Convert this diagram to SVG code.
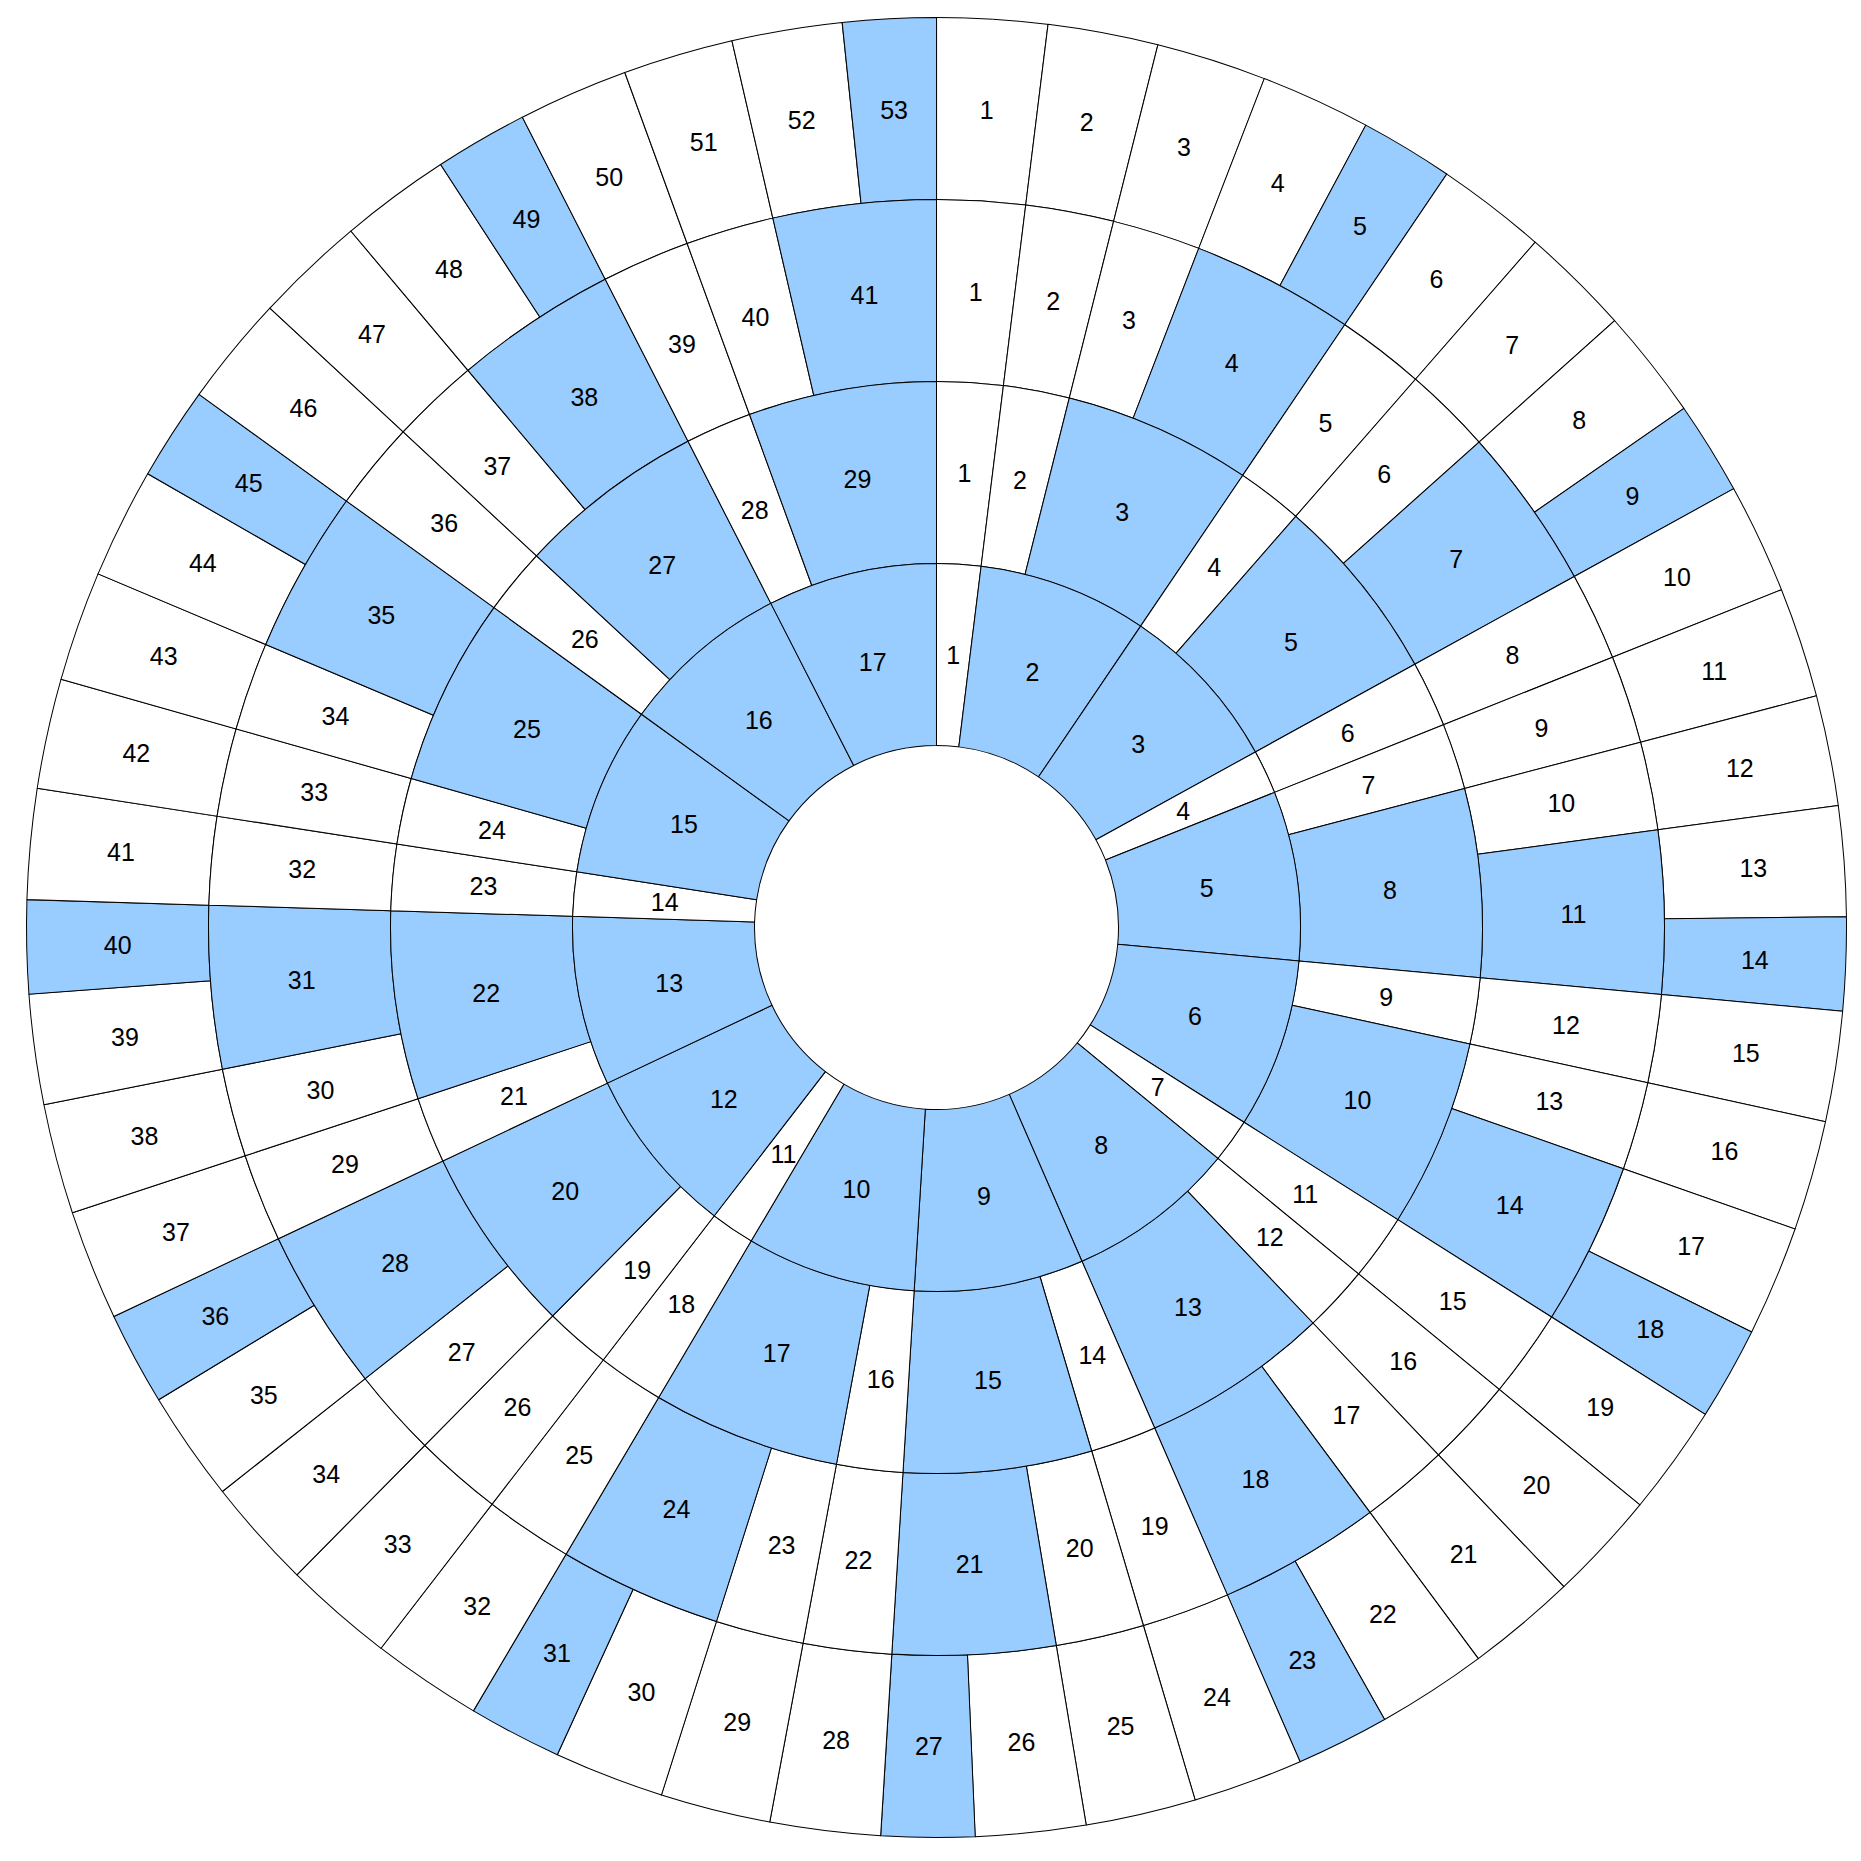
<svg xmlns="http://www.w3.org/2000/svg" xmlns:xlink="http://www.w3.org/1999/xlink" width="1861" height="1861" viewBox="0 0 1861 1861">
<style>
.w{fill:#ffffff}
.b{fill:#99ccff}
use{stroke:#000;stroke-width:1;stroke-linejoin:round}
text{font-family:"Liberation Sans",Arial,sans-serif;font-size:25px;fill:#000;text-anchor:middle;dominant-baseline:central}
</style>
<defs>
<path id="r4w" d="M0,-910A910,910 0 0 1 111.49,-903.14L89.19,-722.52A728,728 0 0 0 0,-728Z"/>
<path id="r4b" d="M0,-910A910,910 0 0 1 94.41,-905.09L75.53,-724.07A728,728 0 0 0 0,-728Z"/>
<path id="r3w" d="M0,-728A728,728 0 0 1 89.19,-722.52L66.89,-541.89A546,546 0 0 0 0,-546Z"/>
<path id="r3b" d="M0,-728A728,728 0 0 1 163.67,-709.36L122.75,-532.02A546,546 0 0 0 0,-546Z"/>
<path id="r2w" d="M0,-546A546,546 0 0 1 66.89,-541.89L44.60,-361.26A364,364 0 0 0 0,-364Z"/>
<path id="r2b" d="M0,-546A546,546 0 0 1 187.01,-512.97L124.67,-341.98A364,364 0 0 0 0,-364Z"/>
<path id="r1w" d="M0,-364A364,364 0 0 1 44.60,-361.26L22.30,-180.63A182,182 0 0 0 0,-182Z"/>
<path id="r1b" d="M0,-364A364,364 0 0 1 165.63,-324.13L82.82,-162.07A182,182 0 0 0 0,-182Z"/>
</defs>
<rect width="1861" height="1861" fill="#ffffff"/>
<g transform="translate(936.5,927.5)">
<g id="ring4">
<g id="r4-1"><use href="#r4w" class="w" transform="rotate(0)"/><text transform="rotate(3.52) translate(0,-819) rotate(-3.52)">1</text></g>
<g id="r4-2"><use href="#r4w" class="w" transform="rotate(7.04)"/><text transform="rotate(10.56) translate(0,-819) rotate(-10.56)">2</text></g>
<g id="r4-3"><use href="#r4w" class="w" transform="rotate(14.08)"/><text transform="rotate(17.59) translate(0,-819) rotate(-17.59)">3</text></g>
<g id="r4-4"><use href="#r4w" class="w" transform="rotate(21.11)"/><text transform="rotate(24.63) translate(0,-819) rotate(-24.63)">4</text></g>
<g id="r4-5"><use href="#r4b" class="b" transform="rotate(28.15)"/><text transform="rotate(31.13) translate(0,-819) rotate(-31.13)">5</text></g>
<g id="r4-6"><use href="#r4w" class="w" transform="rotate(34.11)"/><text transform="rotate(37.62) translate(0,-819) rotate(-37.62)">6</text></g>
<g id="r4-7"><use href="#r4w" class="w" transform="rotate(41.14)"/><text transform="rotate(44.66) translate(0,-819) rotate(-44.66)">7</text></g>
<g id="r4-8"><use href="#r4w" class="w" transform="rotate(48.18)"/><text transform="rotate(51.70) translate(0,-819) rotate(-51.70)">8</text></g>
<g id="r4-9"><use href="#r4b" class="b" transform="rotate(55.22)"/><text transform="rotate(58.20) translate(0,-819) rotate(-58.20)">9</text></g>
<g id="r4-10"><use href="#r4w" class="w" transform="rotate(61.17)"/><text transform="rotate(64.69) translate(0,-819) rotate(-64.69)">10</text></g>
<g id="r4-11"><use href="#r4w" class="w" transform="rotate(68.21)"/><text transform="rotate(71.73) translate(0,-819) rotate(-71.73)">11</text></g>
<g id="r4-12"><use href="#r4w" class="w" transform="rotate(75.25)"/><text transform="rotate(78.77) translate(0,-819) rotate(-78.77)">12</text></g>
<g id="r4-13"><use href="#r4w" class="w" transform="rotate(82.29)"/><text transform="rotate(85.80) translate(0,-819) rotate(-85.80)">13</text></g>
<g id="r4-14"><use href="#r4b" class="b" transform="rotate(89.32)"/><text transform="rotate(92.30) translate(0,-819) rotate(-92.30)">14</text></g>
<g id="r4-15"><use href="#r4w" class="w" transform="rotate(95.28)"/><text transform="rotate(98.80) translate(0,-819) rotate(-98.80)">15</text></g>
<g id="r4-16"><use href="#r4w" class="w" transform="rotate(102.32)"/><text transform="rotate(105.83) translate(0,-819) rotate(-105.83)">16</text></g>
<g id="r4-17"><use href="#r4w" class="w" transform="rotate(109.35)"/><text transform="rotate(112.87) translate(0,-819) rotate(-112.87)">17</text></g>
<g id="r4-18"><use href="#r4b" class="b" transform="rotate(116.39)"/><text transform="rotate(119.37) translate(0,-819) rotate(-119.37)">18</text></g>
<g id="r4-19"><use href="#r4w" class="w" transform="rotate(122.35)"/><text transform="rotate(125.86) translate(0,-819) rotate(-125.86)">19</text></g>
<g id="r4-20"><use href="#r4w" class="w" transform="rotate(129.38)"/><text transform="rotate(132.90) translate(0,-819) rotate(-132.90)">20</text></g>
<g id="r4-21"><use href="#r4w" class="w" transform="rotate(136.42)"/><text transform="rotate(139.94) translate(0,-819) rotate(-139.94)">21</text></g>
<g id="r4-22"><use href="#r4w" class="w" transform="rotate(143.46)"/><text transform="rotate(146.98) translate(0,-819) rotate(-146.98)">22</text></g>
<g id="r4-23"><use href="#r4b" class="b" transform="rotate(150.50)"/><text transform="rotate(153.47) translate(0,-819) rotate(-153.47)">23</text></g>
<g id="r4-24"><use href="#r4w" class="w" transform="rotate(156.45)"/><text transform="rotate(159.97) translate(0,-819) rotate(-159.97)">24</text></g>
<g id="r4-25"><use href="#r4w" class="w" transform="rotate(163.49)"/><text transform="rotate(167.01) translate(0,-819) rotate(-167.01)">25</text></g>
<g id="r4-26"><use href="#r4w" class="w" transform="rotate(170.53)"/><text transform="rotate(174.05) translate(0,-819) rotate(-174.05)">26</text></g>
<g id="r4-27"><use href="#r4b" class="b" transform="rotate(177.56)"/><text transform="rotate(180.54) translate(0,-819) rotate(-180.54)">27</text></g>
<g id="r4-28"><use href="#r4w" class="w" transform="rotate(183.52)"/><text transform="rotate(187.04) translate(0,-819) rotate(-187.04)">28</text></g>
<g id="r4-29"><use href="#r4w" class="w" transform="rotate(190.56)"/><text transform="rotate(194.08) translate(0,-819) rotate(-194.08)">29</text></g>
<g id="r4-30"><use href="#r4w" class="w" transform="rotate(197.59)"/><text transform="rotate(201.11) translate(0,-819) rotate(-201.11)">30</text></g>
<g id="r4-31"><use href="#r4b" class="b" transform="rotate(204.63)"/><text transform="rotate(207.61) translate(0,-819) rotate(-207.61)">31</text></g>
<g id="r4-32"><use href="#r4w" class="w" transform="rotate(210.59)"/><text transform="rotate(214.11) translate(0,-819) rotate(-214.11)">32</text></g>
<g id="r4-33"><use href="#r4w" class="w" transform="rotate(217.62)"/><text transform="rotate(221.14) translate(0,-819) rotate(-221.14)">33</text></g>
<g id="r4-34"><use href="#r4w" class="w" transform="rotate(224.66)"/><text transform="rotate(228.18) translate(0,-819) rotate(-228.18)">34</text></g>
<g id="r4-35"><use href="#r4w" class="w" transform="rotate(231.70)"/><text transform="rotate(235.22) translate(0,-819) rotate(-235.22)">35</text></g>
<g id="r4-36"><use href="#r4b" class="b" transform="rotate(238.74)"/><text transform="rotate(241.71) translate(0,-819) rotate(-241.71)">36</text></g>
<g id="r4-37"><use href="#r4w" class="w" transform="rotate(244.69)"/><text transform="rotate(248.21) translate(0,-819) rotate(-248.21)">37</text></g>
<g id="r4-38"><use href="#r4w" class="w" transform="rotate(251.73)"/><text transform="rotate(255.25) translate(0,-819) rotate(-255.25)">38</text></g>
<g id="r4-39"><use href="#r4w" class="w" transform="rotate(258.77)"/><text transform="rotate(262.29) translate(0,-819) rotate(-262.29)">39</text></g>
<g id="r4-40"><use href="#r4b" class="b" transform="rotate(265.80)"/><text transform="rotate(268.78) translate(0,-819) rotate(-268.78)">40</text></g>
<g id="r4-41"><use href="#r4w" class="w" transform="rotate(271.76)"/><text transform="rotate(275.28) translate(0,-819) rotate(-275.28)">41</text></g>
<g id="r4-42"><use href="#r4w" class="w" transform="rotate(278.80)"/><text transform="rotate(282.32) translate(0,-819) rotate(-282.32)">42</text></g>
<g id="r4-43"><use href="#r4w" class="w" transform="rotate(285.83)"/><text transform="rotate(289.35) translate(0,-819) rotate(-289.35)">43</text></g>
<g id="r4-44"><use href="#r4w" class="w" transform="rotate(292.87)"/><text transform="rotate(296.39) translate(0,-819) rotate(-296.39)">44</text></g>
<g id="r4-45"><use href="#r4b" class="b" transform="rotate(299.91)"/><text transform="rotate(302.89) translate(0,-819) rotate(-302.89)">45</text></g>
<g id="r4-46"><use href="#r4w" class="w" transform="rotate(305.86)"/><text transform="rotate(309.38) translate(0,-819) rotate(-309.38)">46</text></g>
<g id="r4-47"><use href="#r4w" class="w" transform="rotate(312.90)"/><text transform="rotate(316.42) translate(0,-819) rotate(-316.42)">47</text></g>
<g id="r4-48"><use href="#r4w" class="w" transform="rotate(319.94)"/><text transform="rotate(323.46) translate(0,-819) rotate(-323.46)">48</text></g>
<g id="r4-49"><use href="#r4b" class="b" transform="rotate(326.98)"/><text transform="rotate(329.96) translate(0,-819) rotate(-329.96)">49</text></g>
<g id="r4-50"><use href="#r4w" class="w" transform="rotate(332.93)"/><text transform="rotate(336.45) translate(0,-819) rotate(-336.45)">50</text></g>
<g id="r4-51"><use href="#r4w" class="w" transform="rotate(339.97)"/><text transform="rotate(343.49) translate(0,-819) rotate(-343.49)">51</text></g>
<g id="r4-52"><use href="#r4w" class="w" transform="rotate(347.01)"/><text transform="rotate(350.53) translate(0,-819) rotate(-350.53)">52</text></g>
<g id="r4-53"><use href="#r4b" class="b" transform="rotate(354.05)"/><text transform="rotate(357.03) translate(0,-819) rotate(-357.03)">53</text></g>
</g>
<g id="ring3">
<g id="r3-1"><use href="#r3w" class="w" transform="rotate(0)"/><text transform="rotate(3.52) translate(0,-637) rotate(-3.52)">1</text></g>
<g id="r3-2"><use href="#r3w" class="w" transform="rotate(7.04)"/><text transform="rotate(10.56) translate(0,-637) rotate(-10.56)">2</text></g>
<g id="r3-3"><use href="#r3w" class="w" transform="rotate(14.08)"/><text transform="rotate(17.59) translate(0,-637) rotate(-17.59)">3</text></g>
<g id="r3-4"><use href="#r3b" class="b" transform="rotate(21.11)"/><text transform="rotate(27.61) translate(0,-637) rotate(-27.61)">4</text></g>
<g id="r3-5"><use href="#r3w" class="w" transform="rotate(34.11)"/><text transform="rotate(37.62) translate(0,-637) rotate(-37.62)">5</text></g>
<g id="r3-6"><use href="#r3w" class="w" transform="rotate(41.14)"/><text transform="rotate(44.66) translate(0,-637) rotate(-44.66)">6</text></g>
<g id="r3-7"><use href="#r3b" class="b" transform="rotate(48.18)"/><text transform="rotate(54.68) translate(0,-637) rotate(-54.68)">7</text></g>
<g id="r3-8"><use href="#r3w" class="w" transform="rotate(61.17)"/><text transform="rotate(64.69) translate(0,-637) rotate(-64.69)">8</text></g>
<g id="r3-9"><use href="#r3w" class="w" transform="rotate(68.21)"/><text transform="rotate(71.73) translate(0,-637) rotate(-71.73)">9</text></g>
<g id="r3-10"><use href="#r3w" class="w" transform="rotate(75.25)"/><text transform="rotate(78.77) translate(0,-637) rotate(-78.77)">10</text></g>
<g id="r3-11"><use href="#r3b" class="b" transform="rotate(82.29)"/><text transform="rotate(88.78) translate(0,-637) rotate(-88.78)">11</text></g>
<g id="r3-12"><use href="#r3w" class="w" transform="rotate(95.28)"/><text transform="rotate(98.80) translate(0,-637) rotate(-98.80)">12</text></g>
<g id="r3-13"><use href="#r3w" class="w" transform="rotate(102.32)"/><text transform="rotate(105.83) translate(0,-637) rotate(-105.83)">13</text></g>
<g id="r3-14"><use href="#r3b" class="b" transform="rotate(109.35)"/><text transform="rotate(115.85) translate(0,-637) rotate(-115.85)">14</text></g>
<g id="r3-15"><use href="#r3w" class="w" transform="rotate(122.35)"/><text transform="rotate(125.86) translate(0,-637) rotate(-125.86)">15</text></g>
<g id="r3-16"><use href="#r3w" class="w" transform="rotate(129.38)"/><text transform="rotate(132.90) translate(0,-637) rotate(-132.90)">16</text></g>
<g id="r3-17"><use href="#r3w" class="w" transform="rotate(136.42)"/><text transform="rotate(139.94) translate(0,-637) rotate(-139.94)">17</text></g>
<g id="r3-18"><use href="#r3b" class="b" transform="rotate(143.46)"/><text transform="rotate(149.95) translate(0,-637) rotate(-149.95)">18</text></g>
<g id="r3-19"><use href="#r3w" class="w" transform="rotate(156.45)"/><text transform="rotate(159.97) translate(0,-637) rotate(-159.97)">19</text></g>
<g id="r3-20"><use href="#r3w" class="w" transform="rotate(163.49)"/><text transform="rotate(167.01) translate(0,-637) rotate(-167.01)">20</text></g>
<g id="r3-21"><use href="#r3b" class="b" transform="rotate(170.53)"/><text transform="rotate(177.02) translate(0,-637) rotate(-177.02)">21</text></g>
<g id="r3-22"><use href="#r3w" class="w" transform="rotate(183.52)"/><text transform="rotate(187.04) translate(0,-637) rotate(-187.04)">22</text></g>
<g id="r3-23"><use href="#r3w" class="w" transform="rotate(190.56)"/><text transform="rotate(194.08) translate(0,-637) rotate(-194.08)">23</text></g>
<g id="r3-24"><use href="#r3b" class="b" transform="rotate(197.59)"/><text transform="rotate(204.09) translate(0,-637) rotate(-204.09)">24</text></g>
<g id="r3-25"><use href="#r3w" class="w" transform="rotate(210.59)"/><text transform="rotate(214.11) translate(0,-637) rotate(-214.11)">25</text></g>
<g id="r3-26"><use href="#r3w" class="w" transform="rotate(217.62)"/><text transform="rotate(221.14) translate(0,-637) rotate(-221.14)">26</text></g>
<g id="r3-27"><use href="#r3w" class="w" transform="rotate(224.66)"/><text transform="rotate(228.18) translate(0,-637) rotate(-228.18)">27</text></g>
<g id="r3-28"><use href="#r3b" class="b" transform="rotate(231.70)"/><text transform="rotate(238.20) translate(0,-637) rotate(-238.20)">28</text></g>
<g id="r3-29"><use href="#r3w" class="w" transform="rotate(244.69)"/><text transform="rotate(248.21) translate(0,-637) rotate(-248.21)">29</text></g>
<g id="r3-30"><use href="#r3w" class="w" transform="rotate(251.73)"/><text transform="rotate(255.25) translate(0,-637) rotate(-255.25)">30</text></g>
<g id="r3-31"><use href="#r3b" class="b" transform="rotate(258.77)"/><text transform="rotate(265.26) translate(0,-637) rotate(-265.26)">31</text></g>
<g id="r3-32"><use href="#r3w" class="w" transform="rotate(271.76)"/><text transform="rotate(275.28) translate(0,-637) rotate(-275.28)">32</text></g>
<g id="r3-33"><use href="#r3w" class="w" transform="rotate(278.80)"/><text transform="rotate(282.32) translate(0,-637) rotate(-282.32)">33</text></g>
<g id="r3-34"><use href="#r3w" class="w" transform="rotate(285.83)"/><text transform="rotate(289.35) translate(0,-637) rotate(-289.35)">34</text></g>
<g id="r3-35"><use href="#r3b" class="b" transform="rotate(292.87)"/><text transform="rotate(299.37) translate(0,-637) rotate(-299.37)">35</text></g>
<g id="r3-36"><use href="#r3w" class="w" transform="rotate(305.86)"/><text transform="rotate(309.38) translate(0,-637) rotate(-309.38)">36</text></g>
<g id="r3-37"><use href="#r3w" class="w" transform="rotate(312.90)"/><text transform="rotate(316.42) translate(0,-637) rotate(-316.42)">37</text></g>
<g id="r3-38"><use href="#r3b" class="b" transform="rotate(319.94)"/><text transform="rotate(326.44) translate(0,-637) rotate(-326.44)">38</text></g>
<g id="r3-39"><use href="#r3w" class="w" transform="rotate(332.93)"/><text transform="rotate(336.45) translate(0,-637) rotate(-336.45)">39</text></g>
<g id="r3-40"><use href="#r3w" class="w" transform="rotate(339.97)"/><text transform="rotate(343.49) translate(0,-637) rotate(-343.49)">40</text></g>
<g id="r3-41"><use href="#r3b" class="b" transform="rotate(347.01)"/><text transform="rotate(353.50) translate(0,-637) rotate(-353.50)">41</text></g>
</g>
<g id="ring2">
<g id="r2-1"><use href="#r2w" class="w" transform="rotate(0)"/><text transform="rotate(3.52) translate(0,-455) rotate(-3.52)">1</text></g>
<g id="r2-2"><use href="#r2w" class="w" transform="rotate(7.04)"/><text transform="rotate(10.56) translate(0,-455) rotate(-10.56)">2</text></g>
<g id="r2-3"><use href="#r2b" class="b" transform="rotate(14.08)"/><text transform="rotate(24.09) translate(0,-455) rotate(-24.09)">3</text></g>
<g id="r2-4"><use href="#r2w" class="w" transform="rotate(34.11)"/><text transform="rotate(37.62) translate(0,-455) rotate(-37.62)">4</text></g>
<g id="r2-5"><use href="#r2b" class="b" transform="rotate(41.14)"/><text transform="rotate(51.16) translate(0,-455) rotate(-51.16)">5</text></g>
<g id="r2-6"><use href="#r2w" class="w" transform="rotate(61.17)"/><text transform="rotate(64.69) translate(0,-455) rotate(-64.69)">6</text></g>
<g id="r2-7"><use href="#r2w" class="w" transform="rotate(68.21)"/><text transform="rotate(71.73) translate(0,-455) rotate(-71.73)">7</text></g>
<g id="r2-8"><use href="#r2b" class="b" transform="rotate(75.25)"/><text transform="rotate(85.26) translate(0,-455) rotate(-85.26)">8</text></g>
<g id="r2-9"><use href="#r2w" class="w" transform="rotate(95.28)"/><text transform="rotate(98.80) translate(0,-455) rotate(-98.80)">9</text></g>
<g id="r2-10"><use href="#r2b" class="b" transform="rotate(102.32)"/><text transform="rotate(112.33) translate(0,-455) rotate(-112.33)">10</text></g>
<g id="r2-11"><use href="#r2w" class="w" transform="rotate(122.35)"/><text transform="rotate(125.86) translate(0,-455) rotate(-125.86)">11</text></g>
<g id="r2-12"><use href="#r2w" class="w" transform="rotate(129.38)"/><text transform="rotate(132.90) translate(0,-455) rotate(-132.90)">12</text></g>
<g id="r2-13"><use href="#r2b" class="b" transform="rotate(136.42)"/><text transform="rotate(146.44) translate(0,-455) rotate(-146.44)">13</text></g>
<g id="r2-14"><use href="#r2w" class="w" transform="rotate(156.45)"/><text transform="rotate(159.97) translate(0,-455) rotate(-159.97)">14</text></g>
<g id="r2-15"><use href="#r2b" class="b" transform="rotate(163.49)"/><text transform="rotate(173.50) translate(0,-455) rotate(-173.50)">15</text></g>
<g id="r2-16"><use href="#r2w" class="w" transform="rotate(183.52)"/><text transform="rotate(187.04) translate(0,-455) rotate(-187.04)">16</text></g>
<g id="r2-17"><use href="#r2b" class="b" transform="rotate(190.56)"/><text transform="rotate(200.57) translate(0,-455) rotate(-200.57)">17</text></g>
<g id="r2-18"><use href="#r2w" class="w" transform="rotate(210.59)"/><text transform="rotate(214.11) translate(0,-455) rotate(-214.11)">18</text></g>
<g id="r2-19"><use href="#r2w" class="w" transform="rotate(217.62)"/><text transform="rotate(221.14) translate(0,-455) rotate(-221.14)">19</text></g>
<g id="r2-20"><use href="#r2b" class="b" transform="rotate(224.66)"/><text transform="rotate(234.68) translate(0,-455) rotate(-234.68)">20</text></g>
<g id="r2-21"><use href="#r2w" class="w" transform="rotate(244.69)"/><text transform="rotate(248.21) translate(0,-455) rotate(-248.21)">21</text></g>
<g id="r2-22"><use href="#r2b" class="b" transform="rotate(251.73)"/><text transform="rotate(261.74) translate(0,-455) rotate(-261.74)">22</text></g>
<g id="r2-23"><use href="#r2w" class="w" transform="rotate(271.76)"/><text transform="rotate(275.28) translate(0,-455) rotate(-275.28)">23</text></g>
<g id="r2-24"><use href="#r2w" class="w" transform="rotate(278.80)"/><text transform="rotate(282.32) translate(0,-455) rotate(-282.32)">24</text></g>
<g id="r2-25"><use href="#r2b" class="b" transform="rotate(285.83)"/><text transform="rotate(295.85) translate(0,-455) rotate(-295.85)">25</text></g>
<g id="r2-26"><use href="#r2w" class="w" transform="rotate(305.86)"/><text transform="rotate(309.38) translate(0,-455) rotate(-309.38)">26</text></g>
<g id="r2-27"><use href="#r2b" class="b" transform="rotate(312.90)"/><text transform="rotate(322.92) translate(0,-455) rotate(-322.92)">27</text></g>
<g id="r2-28"><use href="#r2w" class="w" transform="rotate(332.93)"/><text transform="rotate(336.45) translate(0,-455) rotate(-336.45)">28</text></g>
<g id="r2-29"><use href="#r2b" class="b" transform="rotate(339.97)"/><text transform="rotate(349.99) translate(0,-455) rotate(-349.99)">29</text></g>
</g>
<g id="ring1">
<g id="r1-1"><use href="#r1w" class="w" transform="rotate(0)"/><text transform="rotate(3.52) translate(0,-273) rotate(-3.52)">1</text></g>
<g id="r1-2"><use href="#r1b" class="b" transform="rotate(7.04)"/><text transform="rotate(20.57) translate(0,-273) rotate(-20.57)">2</text></g>
<g id="r1-3"><use href="#r1b" class="b" transform="rotate(34.11)"/><text transform="rotate(47.64) translate(0,-273) rotate(-47.64)">3</text></g>
<g id="r1-4"><use href="#r1w" class="w" transform="rotate(61.17)"/><text transform="rotate(64.69) translate(0,-273) rotate(-64.69)">4</text></g>
<g id="r1-5"><use href="#r1b" class="b" transform="rotate(68.21)"/><text transform="rotate(81.74) translate(0,-273) rotate(-81.74)">5</text></g>
<g id="r1-6"><use href="#r1b" class="b" transform="rotate(95.28)"/><text transform="rotate(108.81) translate(0,-273) rotate(-108.81)">6</text></g>
<g id="r1-7"><use href="#r1w" class="w" transform="rotate(122.35)"/><text transform="rotate(125.86) translate(0,-273) rotate(-125.86)">7</text></g>
<g id="r1-8"><use href="#r1b" class="b" transform="rotate(129.38)"/><text transform="rotate(142.92) translate(0,-273) rotate(-142.92)">8</text></g>
<g id="r1-9"><use href="#r1b" class="b" transform="rotate(156.45)"/><text transform="rotate(169.99) translate(0,-273) rotate(-169.99)">9</text></g>
<g id="r1-10"><use href="#r1b" class="b" transform="rotate(183.52)"/><text transform="rotate(197.05) translate(0,-273) rotate(-197.05)">10</text></g>
<g id="r1-11"><use href="#r1w" class="w" transform="rotate(210.59)"/><text transform="rotate(214.11) translate(0,-273) rotate(-214.11)">11</text></g>
<g id="r1-12"><use href="#r1b" class="b" transform="rotate(217.62)"/><text transform="rotate(231.16) translate(0,-273) rotate(-231.16)">12</text></g>
<g id="r1-13"><use href="#r1b" class="b" transform="rotate(244.69)"/><text transform="rotate(258.23) translate(0,-273) rotate(-258.23)">13</text></g>
<g id="r1-14"><use href="#r1w" class="w" transform="rotate(271.76)"/><text transform="rotate(275.28) translate(0,-273) rotate(-275.28)">14</text></g>
<g id="r1-15"><use href="#r1b" class="b" transform="rotate(278.80)"/><text transform="rotate(292.33) translate(0,-273) rotate(-292.33)">15</text></g>
<g id="r1-16"><use href="#r1b" class="b" transform="rotate(305.86)"/><text transform="rotate(319.40) translate(0,-273) rotate(-319.40)">16</text></g>
<g id="r1-17"><use href="#r1b" class="b" transform="rotate(332.93)"/><text transform="rotate(346.47) translate(0,-273) rotate(-346.47)">17</text></g>
</g>
</g>
</svg>
